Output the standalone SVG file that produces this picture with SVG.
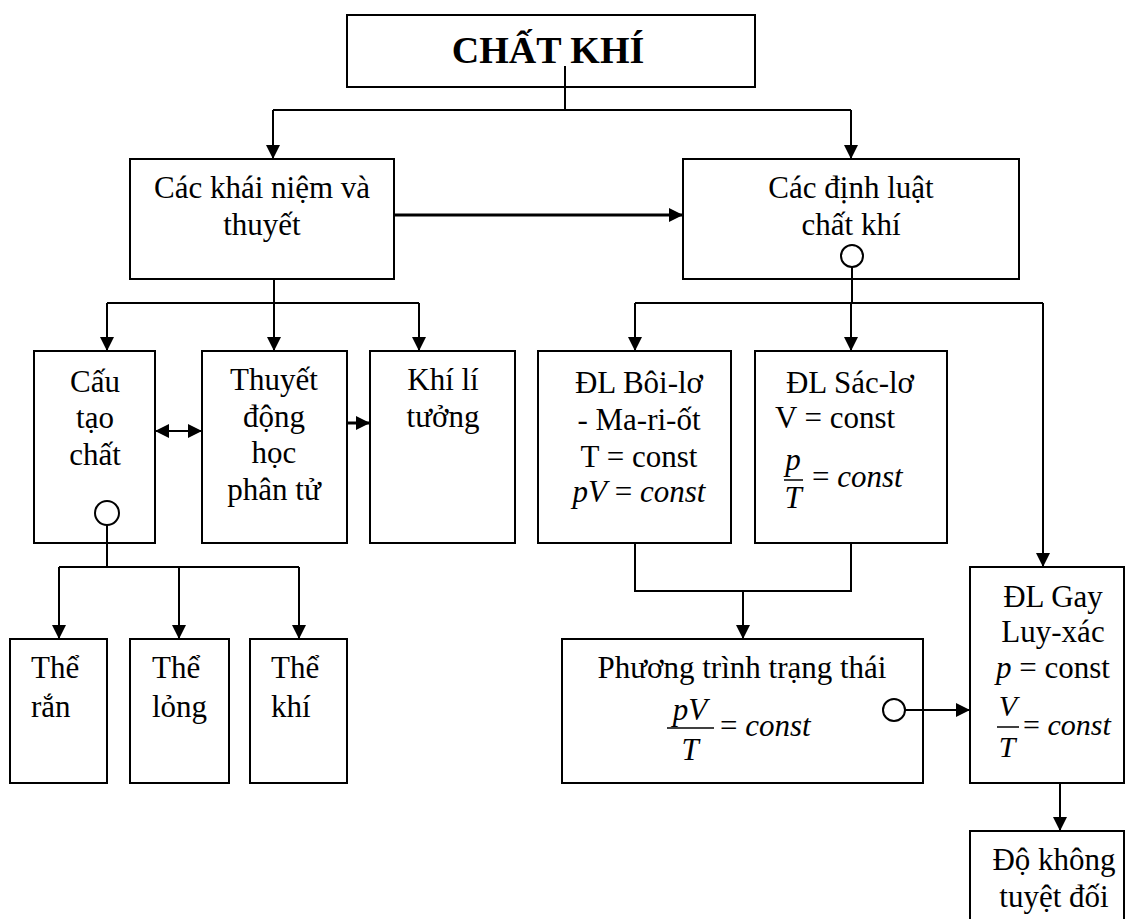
<svg xmlns="http://www.w3.org/2000/svg" width="1128" height="919" viewBox="0 0 1128 919">
<style>
.box{fill:#fff;stroke:#000;stroke-width:2}
.t{font-family:"Liberation Serif","Times New Roman",serif;font-size:31px;fill:#000;text-anchor:middle}
.s{text-anchor:start}
.i{font-style:italic}
.sm{font-size:30px}
.title{font-size:38px;font-weight:bold}
.c{fill:none;stroke:#000;stroke-width:2}
.th{stroke-width:3}
.bar{stroke:#000;stroke-width:1.5}
.dot{fill:#fff;stroke:#000;stroke-width:2}
</style>
<defs>
<marker id="ah" viewBox="0 0 10 10" refX="10" refY="5" markerWidth="15" markerHeight="14" markerUnits="userSpaceOnUse" orient="auto-start-reverse">
<path d="M0,0 L10,5 L0,10 z" fill="#000"/>
</marker>
</defs>
<rect width="1128" height="919" fill="#fff"/>
<g id="n-chatkhi">
<rect class="box" x="347" y="15" width="408" height="72"/>
<text class="t title" x="548" y="63">CHẤT KHÍ</text>
</g>
<g id="n-khainiem">
<rect class="box" x="130" y="159" width="264" height="120"/>
<text class="t" x="262" y="198">Các khái niệm và</text>
<text class="t" x="262" y="235">thuyết</text>
</g>
<g id="n-dinhluat">
<rect class="box" x="683" y="159" width="336" height="120"/>
<text class="t" x="851" y="198">Các định luật</text>
<text class="t" x="851" y="235">chất khí</text>
</g>
<g id="n-cautao">
<rect class="box" x="34" y="351" width="121" height="192"/>
<text class="t" x="95" y="392">Cấu</text>
<text class="t" x="95" y="428">tạo</text>
<text class="t" x="95" y="465">chất</text>
</g>
<g id="n-thuyet">
<rect class="box" x="202" y="351" width="145" height="192"/>
<text class="t" x="274" y="390">Thuyết</text>
<text class="t" x="274" y="427">động</text>
<text class="t" x="274" y="463">học</text>
<text class="t" x="274" y="500">phân tử</text>
</g>
<g id="n-khili">
<rect class="box" x="370" y="351" width="145" height="192"/>
<text class="t" x="443" y="390">Khí lí</text>
<text class="t" x="443" y="427">tưởng</text>
</g>
<g id="n-boilo">
<rect class="box" x="538" y="351" width="193" height="192"/>
<text class="t" x="639" y="393">ĐL Bôi-lơ</text>
<text class="t" x="639" y="430">- Ma-ri-ốt</text>
<text class="t" x="639" y="467">T = const</text>
<text class="t" x="639" y="502"><tspan class="i">pV</tspan> = <tspan class="i">const</tspan></text>
</g>
<g id="n-saclo">
<rect class="box" x="755" y="351" width="192" height="192"/>
<text class="t" x="850" y="393">ĐL Sác-lơ</text>
<text class="t" x="835" y="428">V = const</text>
<text class="t i" x="793" y="470">p</text>
<line class="bar" x1="784" y1="480" x2="803" y2="480"/>
<text class="t i" x="793" y="508">T</text>
<text class="t s" x="812" y="487">= <tspan class="i">const</tspan></text>
</g>
<g id="n-the-ran">
<rect class="box" x="10" y="639" width="97" height="144"/>
<text class="t s" x="31" y="678">Thể</text>
<text class="t s" x="31" y="717">rắn</text>
</g>
<g id="n-the-long">
<rect class="box" x="130" y="639" width="99" height="144"/>
<text class="t s" x="152" y="678">Thể</text>
<text class="t s" x="152" y="717">lỏng</text>
</g>
<g id="n-the-khi">
<rect class="box" x="250" y="639" width="97" height="144"/>
<text class="t s" x="271" y="678">Thể</text>
<text class="t s" x="271" y="717">khí</text>
</g>
<g id="n-phuongtrinh">
<rect class="box" x="562" y="639" width="361" height="144"/>
<text class="t" x="742" y="678">Phương trình trạng thái</text>
<text class="t i" x="690" y="720">pV</text>
<line class="bar" x1="667" y1="728" x2="714" y2="728"/>
<text class="t i" x="690" y="760">T</text>
<text class="t s" x="720" y="736">= <tspan class="i">const</tspan></text>
</g>
<g id="n-gay">
<rect class="box" x="970" y="567" width="154" height="216"/>
<text class="t" x="1053" y="607">ĐL Gay</text>
<text class="t" x="1053" y="642">Luy-xác</text>
<text class="t" x="1053" y="678"><tspan class="i">p</tspan> = const</text>
<text class="t i sm" x="1008" y="716">V</text>
<line class="bar" x1="997" y1="727" x2="1019" y2="727"/>
<text class="t i sm" x="1007" y="757">T</text>
<text class="t s sm" x="1023" y="735">= <tspan class="i">const</tspan></text>
</g>
<g id="n-dokhong">
<rect class="box" x="970" y="831" width="154" height="110"/>
<text class="t" x="1054" y="870">Độ không</text>
<text class="t" x="1054" y="907">tuyệt đối</text>
</g>
<g id="connectors">
<path class="c" d="M565,66 V110 M273,110 H851"/>
<path class="c" d="M273,110 V159" marker-end="url(#ah)"/>
<path class="c" d="M851,110 V159" marker-end="url(#ah)"/>
<path class="c th" d="M394,215 H683" marker-end="url(#ah)"/>
<path class="c" d="M274,279 V303 M107,303 H419"/>
<path class="c" d="M107,303 V351" marker-end="url(#ah)"/>
<path class="c" d="M274,303 V351" marker-end="url(#ah)"/>
<path class="c" d="M419,303 V351" marker-end="url(#ah)"/>
<path class="c" d="M155,431 H202" marker-start="url(#ah)" marker-end="url(#ah)"/>
<path class="c th" d="M347,423 H370" marker-end="url(#ah)"/>
<circle class="dot" cx="107" cy="513" r="12"/>
<path class="c" d="M107,525 V567 M59,567 H299"/>
<path class="c" d="M59,567 V639" marker-end="url(#ah)"/>
<path class="c" d="M179,567 V639" marker-end="url(#ah)"/>
<path class="c" d="M299,567 V639" marker-end="url(#ah)"/>
<circle class="dot" cx="852" cy="256" r="11"/>
<path class="c" d="M852,267 V303 M635,303 H1043"/>
<path class="c" d="M635,303 V351" marker-end="url(#ah)"/>
<path class="c" d="M851,303 V351" marker-end="url(#ah)"/>
<path class="c" d="M1043,303 V567" marker-end="url(#ah)"/>
<path class="c" d="M635,543 V591 H851 V543"/>
<path class="c" d="M743,591 V639" marker-end="url(#ah)"/>
<circle class="dot" cx="894" cy="710" r="11"/>
<path class="c" d="M905,710 H970" marker-end="url(#ah)"/>
<path class="c" d="M1060,783 V831" marker-end="url(#ah)"/>
</g>
</svg>
